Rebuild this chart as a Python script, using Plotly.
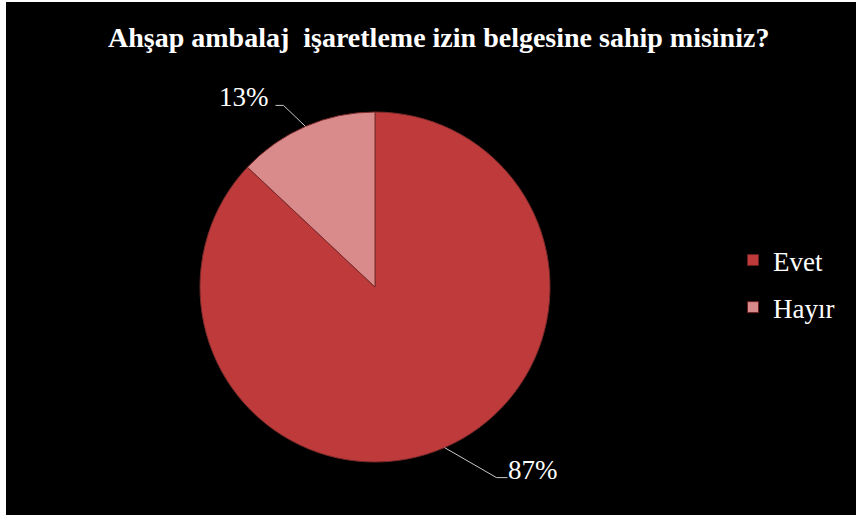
import numpy as np
import plotly.graph_objects as go

# ---- data ----
labels = ["Evet", "Hayır"]
values = [87, 13]
title_text = "Ahşap ambalaj  işaretleme izin belgesine sahip misiniz?"

colors = ["#BF3B3B", "#D98B8C"]

W, H = 856, 518
cx, cy, R = 375, 287, 175  # pie centre / radius in pixels

fig = go.Figure()
fig.add_trace(go.Pie(
    labels=labels, values=values, sort=False, direction="clockwise", rotation=0,
    marker=dict(colors=colors, line=dict(color="#7a2a2a", width=1)),
    textinfo="none", hoverinfo="label+percent", showlegend=False,
    domain=dict(x=[(cx - R) / W, (cx + R) / W], y=[1 - (cy + R) / H, 1 - (cy - R) / H]),
))

# legend entries (one group per label so they can be spaced)
for lab, col in zip(labels, colors):
    fig.add_trace(go.Scatter(x=[None], y=[None], mode="markers", name=lab, legendgroup=lab,
                             marker=dict(symbol="square", size=11, color=col,
                                         line=dict(color="#6a2020", width=1))))


def px(x):
    return x / W


def py(y):
    return 1 - y / H


# leader lines + labels computed from the data
total = sum(values)
cum = 0
offsets = [(52, 30, 11, 1), (-22, -21, -8, -1)]  # (dx, dy, horizontal length, side)
shapes = []
annotations = []
for i, v in enumerate(values):
    mid = (cum + v / 2) / total * 2 * np.pi
    cum += v
    ex = cx + R * np.sin(mid)
    ey = cy - R * np.cos(mid)
    dx, dy, hl, side = offsets[i]
    kx, ky = ex + dx, ey + dy
    hx = kx + hl
    shapes.append(dict(type="path", xref="paper", yref="paper",
                       path=f"M {px(ex)} {py(ey)} L {px(kx)} {py(ky)} L {px(hx)} {py(ky)}",
                       line=dict(color="#c8c8c8", width=1)))
    pct = f"{round(v / total * 100)}%"
    annotations.append(dict(x=px(hx + (-2 if side > 0 else -4)), y=py(ky - 8), xref="paper", yref="paper",
                            text=pct, showarrow=False,
                            xanchor="left" if side > 0 else "right", yanchor="middle",
                            font=dict(family="Liberation Serif", size=27, color="white")))

# white strips at the edges of the picture
shapes += [
    dict(type="rect", xref="paper", yref="paper", x0=0, x1=px(6), y0=0, y1=1,
         fillcolor="white", line=dict(width=0), layer="above"),
    dict(type="rect", xref="paper", yref="paper", x0=0, x1=1, y0=0, y1=3 / H,
         fillcolor="white", line=dict(width=0), layer="above"),
    dict(type="rect", xref="paper", yref="paper", x0=0, x1=1, y0=1 - 2 / H, y1=1,
         fillcolor="white", line=dict(width=0), layer="above"),
]

annotations.append(dict(x=px(438), y=py(38), xref="paper", yref="paper", text="<b>" + title_text + "</b>",
                        showarrow=False, xanchor="center", yanchor="middle",
                        font=dict(family="Liberation Serif", size=28, color="white")))

fig.update_layout(
    width=W, height=H, margin=dict(l=0, r=0, t=0, b=0),
    paper_bgcolor="black", plot_bgcolor="black",
    xaxis=dict(visible=False), yaxis=dict(visible=False),
    shapes=shapes, annotations=annotations,
    showlegend=True,
    legend=dict(x=px(733), y=py(236), xanchor="left", yanchor="top",
                font=dict(family="Liberation Serif", size=27, color="white"),
                bgcolor="rgba(0,0,0,0)", itemwidth=30, tracegroupgap=9,
                traceorder="grouped"),
)

fig.write_html("out.html", config={"displayModeBar": False},
               post_script="document.body.style.margin='0';")
